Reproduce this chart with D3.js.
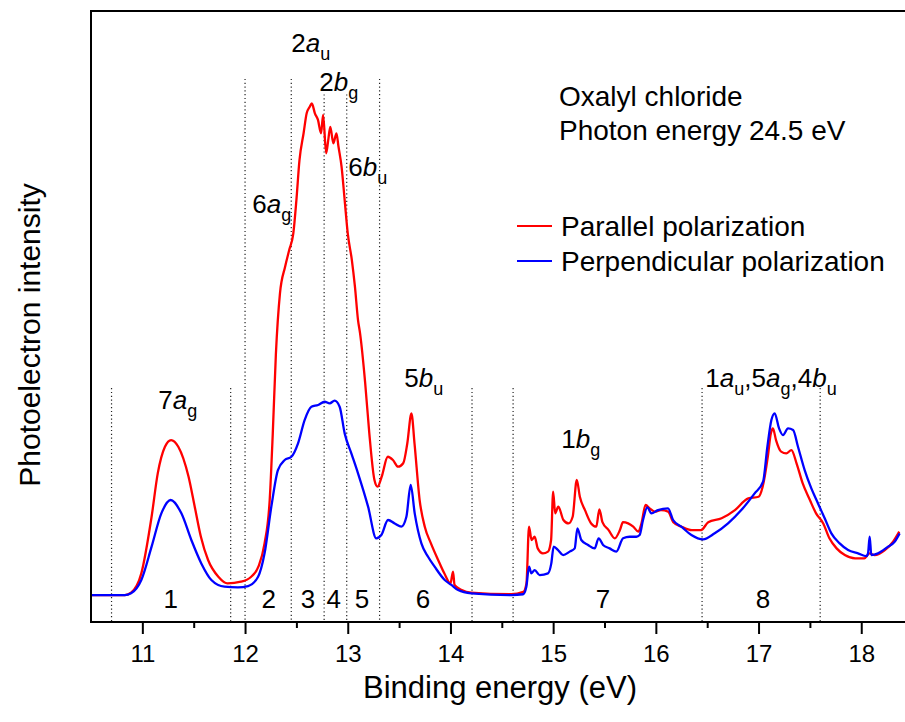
<!DOCTYPE html>
<html>
<head>
<meta charset="utf-8">
<script src="https://cdn.jsdelivr.net/npm/d3@7"></script>
<style>
  html, body { margin: 0; padding: 0; background: #fff; }
  svg { display: block; font-family: "Liberation Sans", Arial, sans-serif; }
</style>
</head>
<body>
<svg id="chart" width="905" height="722"></svg>
<script>
// ---------------- data ----------------
const xTicks = [11, 12, 13, 14, 15, 16, 17, 18];
const xMinorTicks = [11.5, 12.5, 13.5, 14.5, 15.5, 16.5, 17.5];
const xTickLabels = ["11", "12", "13", "14", "15", "16", "17", "18"];

// Parallel polarization [binding energy (eV), intensity (arb.)]
const parallel = [
  [10.50,0],[10.83,0],[10.89,0.015],[10.99,0.14],[11.09,0.505],[11.15,0.785],[11.22,0.957],[11.28,1.0],
  [11.35,0.957],[11.45,0.763],[11.51,0.57],[11.57,0.376],[11.64,0.226],[11.74,0.118],[11.83,0.075],
  [11.96,0.086],[12.06,0.118],[12.13,0.183],[12.19,0.333],[12.24,0.613],[12.27,1.043],[12.30,1.55],
  [12.34,1.946],[12.39,2.118],[12.43,2.226],[12.47,2.333],[12.50,2.548],[12.53,2.806],[12.57,2.979],
  [12.60,3.108],[12.63,3.15],[12.65,3.172],[12.68,3.108],[12.71,3.065],[12.74,2.979],[12.76,3.097],
  [12.79,2.85],[12.81,2.935],[12.83,3.021],[12.86,2.914],[12.89,2.979],[12.91,2.892],[12.94,2.763],
  [12.97,2.548],[13.00,2.333],[13.04,2.161],[13.07,1.989],[13.10,1.774],[13.12,1.688],[13.17,1.366],
  [13.21,1.043],[13.26,0.742],[13.29,0.699],[13.33,0.763],[13.39,0.892],[13.44,0.871],[13.49,0.828],
  [13.54,0.85],[13.58,0.979],[13.62,1.172],[13.65,0.979],[13.70,0.613],[13.75,0.441],[13.81,0.333],
  [13.88,0.226],[13.94,0.14],[14.00,0.075],[14.025,0.151],[14.04,0.065],[14.11,0.032],[14.20,0.015],
  [14.59,0.005],[14.71,0.02],[14.74,0.075],[14.765,0.441],[14.79,0.355],[14.82,0.376],[14.85,0.301],
  [14.90,0.269],[14.95,0.28],[14.98,0.355],[15.00,0.667],[15.02,0.527],[15.05,0.57],[15.10,0.484],
  [15.15,0.462],[15.19,0.505],[15.23,0.742],[15.26,0.634],[15.31,0.548],[15.37,0.462],[15.42,0.441],
  [15.45,0.553],[15.48,0.47],[15.54,0.419],[15.60,0.366],[15.65,0.419],[15.68,0.47],[15.73,0.462],
  [15.78,0.441],[15.83,0.409],[15.86,0.462],[15.90,0.581],[15.94,0.559],[15.99,0.538],[16.05,0.548],
  [16.12,0.538],[16.17,0.47],[16.25,0.441],[16.35,0.419],[16.44,0.419],[16.51,0.47],[16.64,0.495],
  [16.77,0.548],[16.90,0.624],[17.00,0.634],[17.04,0.699],[17.09,0.892],[17.12,1.043],[17.14,1.075],
  [17.17,1.0],[17.22,0.925],[17.27,0.914],[17.32,0.935],[17.37,0.85],[17.43,0.72],[17.50,0.613],
  [17.56,0.527],[17.63,0.462],[17.69,0.366],[17.76,0.301],[17.84,0.258],[17.94,0.237],[18.03,0.237],
  [18.08,0.269],[18.13,0.258],[18.23,0.29],[18.31,0.344],[18.37,0.409]
];

// Perpendicular polarization [binding energy (eV), intensity (arb.)]
const perpendicular = [
  [10.50,0],[10.83,0],[10.89,0.011],[10.99,0.097],[11.09,0.312],[11.185,0.527],[11.276,0.613],
  [11.38,0.527],[11.477,0.355],[11.574,0.204],[11.672,0.097],[11.80,0.054],[11.93,0.05],[12.03,0.058],
  [12.127,0.118],[12.19,0.269],[12.256,0.57],[12.32,0.806],[12.386,0.871],[12.451,0.892],[12.516,0.979],
  [12.58,1.129],[12.646,1.215],[12.711,1.226],[12.775,1.247],[12.824,1.237],[12.872,1.254],[12.921,1.215],
  [12.97,1.043],[13.035,0.914],[13.10,0.785],[13.198,0.57],[13.278,0.366],[13.327,0.387],[13.392,0.484],
  [13.457,0.462],[13.522,0.441],[13.571,0.505],[13.613,0.71],[13.652,0.527],[13.717,0.333],[13.782,0.247],
  [13.846,0.183],[13.944,0.097],[14.009,0.065],[14.074,0.032],[14.203,0.011],[14.593,0],[14.707,0.005],
  [14.739,0.054],[14.765,0.183],[14.788,0.14],[14.82,0.161],[14.869,0.129],[14.95,0.14],[14.982,0.204],
  [15.005,0.312],[15.048,0.29],[15.097,0.258],[15.161,0.28],[15.21,0.301],[15.236,0.43],[15.274,0.355],
  [15.34,0.323],[15.404,0.301],[15.443,0.366],[15.486,0.323],[15.55,0.301],[15.615,0.28],[15.681,0.366],
  [15.745,0.376],[15.81,0.376],[15.842,0.387],[15.875,0.484],[15.917,0.566],[15.956,0.527],[16.021,0.548],
  [16.119,0.559],[16.168,0.484],[16.248,0.441],[16.346,0.387],[16.46,0.359],[16.573,0.398],[16.703,0.462],
  [16.832,0.548],[16.962,0.656],[17.044,0.731],[17.086,0.957],[17.125,1.129],[17.157,1.172],[17.20,1.075],
  [17.238,1.032],[17.287,1.075],[17.336,1.065],[17.384,0.957],[17.449,0.806],[17.514,0.688],[17.579,0.591],
  [17.644,0.495],[17.709,0.398],[17.79,0.333],[17.872,0.29],[17.969,0.269],[18.05,0.251],[18.066,0.269],
  [18.082,0.376],[18.098,0.258],[18.163,0.269],[18.261,0.312],[18.325,0.344],[18.374,0.398]
];

// band boundaries (eV) and the intensity at which each dotted line starts
const boundaryE   = [10.70, 11.86, 12.00, 12.45, 12.77, 12.99, 13.31, 14.21, 14.61, 16.45, 17.60];
const boundaryTop = [1.335, 1.335, 3.33, 3.33, 3.23, 3.23, 3.33, 1.335, 1.335, 1.335, 1.335];

// band numbers and their centre energies
const bandLabels = ["1", "2", "3", "4", "5", "6", "7", "8"];
const bandE      = [11.276, 12.23, 12.613, 12.863, 13.139, 13.733, 15.486, 17.044];

// orbital assignments: parts [text, style]; style: n=normal, i=italic, s=subscript
const orbitalLabels = [
  [["2","n"],["a","i"],["u","s"]],
  [["2","n"],["b","i"],["g","s"]],
  [["6","n"],["b","i"],["u","s"]],
  [["6","n"],["a","i"],["g","s"]],
  [["7","n"],["a","i"],["g","s"]],
  [["5","n"],["b","i"],["u","s"]],
  [["1","n"],["b","i"],["g","s"]],
  [["1","n"],["a","i"],["u","s"],[",5","n"],["a","i"],["g","s"],[",4","n"],["b","i"],["u","s"]]
];
const orbitalE = [12.451, 12.723, 13.006, 12.071, 11.156, 13.551, 15.08, 16.482];
const orbitalI = [3.503, 3.252, 2.703, 2.465, 1.20, 1.342, 0.948, 1.342];

const seriesNames  = ["Parallel polarization", "Perpendicular polarization"];
const seriesColors = ["#ff0000", "#0000ff"];
const titleLines   = ["Oxalyl chloride", "Photon energy 24.5 eV"];

// ---------------- chart ----------------
const svg = d3.select("#chart");
const x = d3.scaleLinear().domain([10.5, 18.5]).range([91, 91 + 8 * 102.7]);
const y = d3.scaleLinear().domain([-0.174, 3.768]).range([622, 11]);

// dotted band boundaries
svg.append("g").selectAll("line").data(boundaryE).join("line")
  .attr("x1", d => x(d)).attr("x2", d => x(d))
  .attr("y1", (d, i) => y(boundaryTop[i])).attr("y2", y.range()[0])
  .attr("stroke", "#222").attr("stroke-width", 1.2).attr("stroke-dasharray", "1.2,2.6");

// curves
const line = d3.line().x(d => x(d[0])).y(d => y(d[1])).curve(d3.curveMonotoneX);
[parallel, perpendicular].forEach((s, i) => {
  svg.append("path").datum(s).attr("d", line)
    .attr("fill", "none").attr("stroke", seriesColors[i])
    .attr("stroke-width", 2.3).attr("stroke-linejoin", "round");
});

// axes
const xAxis = d3.axisBottom(x).tickValues(xTicks).tickSize(12).tickSizeOuter(0).tickPadding(11)
  .tickFormat((d, i) => xTickLabels[i]);
const gx = svg.append("g").attr("transform", `translate(0,${y.range()[0]})`).call(xAxis);
gx.select(".domain").remove();
gx.selectAll(".tick line").attr("stroke", "#000").attr("stroke-width", 2);
gx.selectAll(".tick text").attr("font-size", 24).attr("font-family", "Liberation Sans, Arial, sans-serif").attr("fill", "#000");

const xMinor = d3.axisBottom(x).tickValues(xMinorTicks).tickSize(6).tickSizeOuter(0).tickFormat("");
const gm = svg.append("g").attr("transform", `translate(0,${y.range()[0]})`).call(xMinor);
gm.select(".domain").remove();
gm.selectAll(".tick line").attr("stroke", "#000").attr("stroke-width", 2);

// frame: bottom, left, top
svg.append("line").attr("x1", x(10.5) - 1).attr("x2", 905).attr("y1", y.range()[0]).attr("y2", y.range()[0])
  .attr("stroke", "#000").attr("stroke-width", 2);
svg.append("line").attr("x1", x(10.5)).attr("x2", x(10.5)).attr("y1", y.range()[1] - 1).attr("y2", y.range()[0] + 1)
  .attr("stroke", "#000").attr("stroke-width", 2);
svg.append("line").attr("x1", x(10.5) - 1).attr("x2", 905).attr("y1", y.range()[1]).attr("y2", y.range()[1])
  .attr("stroke", "#000").attr("stroke-width", 2);

// axis titles
svg.append("text").attr("x", 500).attr("y", 698).attr("text-anchor", "middle")
  .attr("font-size", 31).text("Binding energy (eV)");
svg.append("text").attr("transform", "translate(40,335) rotate(-90)").attr("text-anchor", "middle")
  .attr("font-size", 30).text("Photoelectron intensity");

// band numbers
svg.append("g").selectAll("text").data(bandLabels).join("text")
  .attr("x", (d, i) => x(bandE[i])).attr("y", 608).attr("text-anchor", "middle")
  .attr("font-size", 26).text(d => d);

// orbital labels
orbitalLabels.forEach((parts, i) => {
  const t = svg.append("text").attr("x", x(orbitalE[i])).attr("y", y(orbitalI[i])).attr("font-size", 26);
  let sub = false;
  parts.forEach(([txt, st]) => {
    const ts = t.append("tspan").text(txt);
    if (st === "i") ts.attr("font-style", "italic");
    if (st === "s") { ts.attr("font-size", 18).attr("dy", 8); sub = true; }
    else if (sub) { ts.attr("dy", -8); sub = false; }
  });
});

// title
titleLines.forEach((t, i) => {
  svg.append("text").attr("x", 559).attr("y", 106 + i * 34).attr("font-size", 28).text(t);
});

// legend
seriesNames.forEach((n, i) => {
  const yy = 226 + i * 35;
  svg.append("line").attr("x1", 517).attr("x2", 552).attr("y1", yy).attr("y2", yy)
    .attr("stroke", seriesColors[i]).attr("stroke-width", 2);
  svg.append("text").attr("x", 561).attr("y", yy + 10).attr("font-size", 28).text(n);
});
</script>
</body>
</html>
